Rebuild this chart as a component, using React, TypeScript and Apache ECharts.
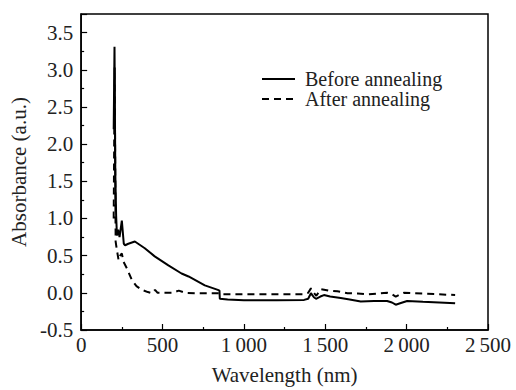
import React, { useEffect, useRef } from "react";
import * as echarts from "echarts";

const beforeWl = [200, 205, 210, 215, 220, 227, 236, 250, 262, 270, 290, 330, 391, 452, 536, 617, 660, 760, 840, 850, 852, 900, 1000, 1200, 1370, 1395, 1412, 1430, 1443, 1470, 1492, 1530, 1595, 1650, 1718, 1800, 1880, 1910, 1933, 1960, 2003, 2100, 2200, 2298];
const beforeAbs = [2.2, 3.31, 1.6, 1.04, 0.77, 0.85, 0.75, 0.97, 0.66, 0.64, 0.66, 0.69, 0.6, 0.49, 0.37, 0.26, 0.22, 0.1, 0.04, 0.03, -0.08, -0.09, -0.1, -0.1, -0.095, -0.08, -0.005, -0.06, -0.08, -0.05, -0.03, -0.05, -0.07, -0.09, -0.116, -0.11, -0.11, -0.13, -0.16, -0.14, -0.11, -0.12, -0.13, -0.14];

const afterWl = [200, 206, 212, 218, 230, 240, 250, 260, 281, 312, 340, 373, 410, 434, 454, 470, 513, 560, 600, 640, 700, 850, 862, 1000, 1200, 1370, 1395, 1412, 1430, 1445, 1473, 1520, 1575, 1636, 1700, 1758, 1880, 1910, 1933, 1960, 1982, 2100, 2200, 2298];
const afterAbs = [1.0, 3.03, 0.69, 0.6, 0.44, 0.5, 0.53, 0.42, 0.33, 0.17, 0.09, 0.04, 0.01, -0.005, 0.04, 0.0, 0.0, 0.0, 0.03, 0.0, -0.005, -0.005, -0.02, -0.02, -0.02, -0.02, 0.0, 0.06, 0.0, -0.04, 0.05, 0.03, 0.02, -0.005, -0.01, -0.02, 0.0, -0.02, -0.05, -0.02, 0.0, -0.01, -0.02, -0.03];

const seriesNames = ["Before annealing", "After annealing"];
const FONT = "Liberation Serif, Times New Roman, serif";

export default function App() {
  const ref = useRef<HTMLDivElement>(null);
  useEffect(() => {
    if (!ref.current) return;
    const chart = echarts.init(ref.current, null, { renderer: "svg" });
    const before = beforeWl.map((w, i) => [w, beforeAbs[i]]);
    const after = afterWl.map((w, i) => [w, afterAbs[i]]);
    chart.setOption({
      animation: false,
      backgroundColor: "#fff",
      grid: {
        left: 79,
        right: 28,
        top: 14,
        bottom: 58,
        show: true,
        borderColor: "#000",
        borderWidth: 1.5,
        backgroundColor: "transparent",
      },
      xAxis: {
        type: "value",
        min: 0,
        max: 2500,
        interval: 500,
        name: "Wavelength (nm)",
        nameLocation: "middle",
        nameGap: 34,
        nameTextStyle: { fontFamily: FONT, fontSize: 21, color: "#222" },
        axisLine: { show: true, onZero: false, lineStyle: { color: "#000", width: 1.5 } },
        axisTick: { show: true, inside: true, length: 6, lineStyle: { color: "#000", width: 1.2 } },
        minorTick: { show: true, splitNumber: 2, length: 3, lineStyle: { color: "#000", width: 1.2 } },
        splitLine: { show: false },
        axisLabel: {
          fontFamily: FONT,
          fontSize: 21,
          color: "#222",
          margin: 4,
          formatter: (v: number) => (v >= 1000 ? Math.floor(v / 1000) + "\u2009" + String(v % 1000).padStart(3, "0") : String(v)),
        },
      },
      yAxis: {
        type: "value",
        min: -0.5,
        max: 3.75,
        interval: 0.5,
        name: "Absorbance (a.u.)",
        nameLocation: "middle",
        nameGap: 50,
        nameRotate: 90,
        nameTextStyle: { fontFamily: FONT, fontSize: 21, color: "#222" },
        axisLine: { show: true, onZero: false, lineStyle: { color: "#000", width: 1.5 } },
        axisTick: { show: true, inside: true, length: 6, lineStyle: { color: "#000", width: 1.2 } },
        minorTick: { show: true, splitNumber: 2, length: 3, lineStyle: { color: "#000", width: 1.2 } },
        splitLine: { show: false },
        axisLabel: {
          fontFamily: FONT,
          fontSize: 21,
          color: "#222",
          margin: 8,
          formatter: (v: number) => (Math.abs(v * 2 - Math.round(v * 2)) < 1e-6 ? v.toFixed(1) : ""),
        },
      },
      series: [
        {
          name: seriesNames[0],
          type: "line",
          data: before,
          showSymbol: false,
          symbol: "none",
          lineStyle: { color: "#000", width: 2 },
        },
        {
          name: seriesNames[1],
          type: "line",
          data: after,
          showSymbol: false,
          symbol: "none",
          lineStyle: { color: "#000", width: 2, type: [7, 5] },
        },
      ],
      graphic: [
        { type: "line", shape: { x1: 262, y1: 79, x2: 295, y2: 79 }, style: { stroke: "#000", lineWidth: 2 } },
        { type: "line", shape: { x1: 262, y1: 99, x2: 295, y2: 99 }, style: { stroke: "#000", lineWidth: 2, lineDash: [7, 5] } },
        { type: "text", x: 305, y: 79, style: { text: seriesNames[0], fontFamily: FONT, fontSize: 20, lineHeight: 19, fill: "#222", verticalAlign: "middle" } },
        { type: "text", x: 305, y: 99, style: { text: seriesNames[1], fontFamily: FONT, fontSize: 20, lineHeight: 19, fill: "#222", verticalAlign: "middle" } },
      ],
    });
    return () => chart.dispose();
  }, []);
  return <div ref={ref} style={{ width: 516, height: 390, position: "absolute", left: 0, top: 0 }} />;
}
